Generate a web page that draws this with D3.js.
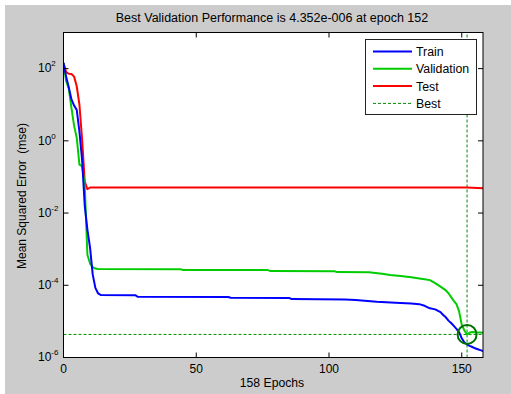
<!DOCTYPE html>
<html lang="en">
<head>
<meta charset="utf-8">
<title>Best Validation Performance</title>
<script src="https://cdn.jsdelivr.net/npm/d3@7"></script>
<style>
  body { margin: 0; background: #fff; }
  svg text { font-family: "Liberation Sans", Arial, sans-serif; fill: #000; }
  .ylabel { white-space: pre; }
</style>
</head>
<body>
<div id="chart"></div>
<script>
// ---- data ----
var xTicks = [0, 50, 100, 150];
var yTicks = [1e-6, 1e-4, 1e-2, 1, 1e2];
var yTickExp = ["-6", "-4", "-2", "0", "2"];

var trainEpochs = [0,1,2,3,4,5,6,7,8,9,10,11,12,13,14,27,28,62,63,85,86,106,110,118,125,131,134,136,138,140,142,143,144,145,146,147,148,149,150,151,152,153,154,155,156,157,158];
var trainMse = [143,60,30,14,9.5,7.1,1.8,0.3,0.016,0.0035,0.0011,2.0e-4,8.5e-5,6.0e-5,5.4e-5,5.3e-5,4.8e-5,4.75e-5,4.5e-5,4.45e-5,4.15e-5,4.05e-5,3.9e-5,3.5e-5,3.3e-5,3.15e-5,3.0e-5,2.7e-5,2.3e-5,2.15e-5,1.8e-5,1.5e-5,1.3e-5,1.05e-5,9e-6,7.5e-6,6.2e-6,5e-6,3.4e-6,2.6e-6,2.3e-6,2.1e-6,1.95e-6,1.8e-6,1.7e-6,1.6e-6,1.5e-6];

var valEpochs = [0,1,2,3,4,5,6,7,8,9,10,11,12,13,44,45,77,78,102,103,115,120,123,127,131,134,136,138,140,142,144,145,146,147,148,149,150,151,152,153,154,155,156,157,158];
var valMse = [143,45,28,8,2.6,1.2,0.22,0.2,0.06,7e-4,4e-4,3.2e-4,2.9e-4,2.81e-4,2.8e-4,2.64e-4,2.63e-4,2.47e-4,2.46e-4,2.32e-4,2.28e-4,2.08e-4,1.92e-4,1.8e-4,1.66e-4,1.55e-4,1.47e-4,1.39e-4,1.15e-4,9.2e-5,7.2e-5,6e-5,4.7e-5,3.7e-5,3.0e-5,1.9e-5,8e-6,5.6e-6,4.352e-6,4.9e-6,5.1e-6,5.0e-6,4.95e-6,4.9e-6,4.83e-6];

var testEpochs = [0,1,2,3,4,5,6,7,8,9,10,152,158];
var testMse = [143,80,72,71,60,32,10,1.1,0.075,0.046,0.051,0.051,0.049];

var bestEpoch = 152;
var bestPerf = 4.352e-6;
var totalEpochs = 158;

var legendNames = ["Train", "Validation", "Test", "Best"];

// ---- layout ----
var width = 511, height = 394;

var svg = d3.select("#chart").append("svg")
  .attr("width", width)
  .attr("height", height);

// grey figure background
svg.append("rect")
  .attr("x", 5).attr("y", 5)
  .attr("width", width - 5).attr("height", height - 5)
  .attr("fill", "#cccccc");

var x = d3.scaleLinear().domain([0, totalEpochs]).range([63.5, 483]);
var y = d3.scaleLog().domain([1e-6, 1e3]).range([357.5, 32.5]);

// white plot area
svg.append("rect")
  .attr("x", x.range()[0]).attr("y", y.range()[1])
  .attr("width", x.range()[1] - x.range()[0])
  .attr("height", y.range()[0] - y.range()[1])
  .attr("fill", "#fff");

svg.append("defs").append("clipPath")
  .attr("id", "clip")
  .append("rect")
  .attr("x", x.range()[0]).attr("y", y.range()[1])
  .attr("width", x.range()[1] - x.range()[0])
  .attr("height", y.range()[0] - y.range()[1]);

var plot = svg.append("g").attr("clip-path", "url(#clip)");

function pairs(ex, vals) {
  return ex.map(function(e, i) { return [e, vals[i]]; });
}

var line = d3.line()
  .x(function(d) { return x(d[0]); })
  .y(function(d) { return y(d[1]); });

// best lines
plot.append("line")
  .attr("x1", x(0)).attr("x2", x(totalEpochs))
  .attr("y1", y(bestPerf)).attr("y2", y(bestPerf))
  .attr("stroke", "#008a00").attr("stroke-width", 1)
  .attr("stroke-dasharray", "3,2");
plot.append("line")
  .attr("x1", x(bestEpoch)).attr("x2", x(bestEpoch))
  .attr("y1", y.range()[0]).attr("y2", y.range()[1])
  .attr("stroke", "#008a00").attr("stroke-width", 1)
  .attr("stroke-dasharray", "3,2");

var series = [
  {data: pairs(testEpochs, testMse), color: "#ff0000"},
  {data: pairs(valEpochs, valMse), color: "#00cc00"},
  {data: pairs(trainEpochs, trainMse), color: "#0000ff"}
];

series.forEach(function(s) {
  plot.append("path")
    .attr("d", line(s.data))
    .attr("fill", "none")
    .attr("stroke", s.color)
    .attr("stroke-width", 2)
    .attr("stroke-linejoin", "round");
});

// best circle
plot.append("circle")
  .attr("cx", x(bestEpoch)).attr("cy", y(bestPerf))
  .attr("r", 9.5)
  .attr("fill", "none")
  .attr("stroke", "#007000")
  .attr("stroke-width", 2);

// ---- axes (box with inward ticks) ----
var xBottom = svg.append("g")
  .attr("transform", "translate(0," + y.range()[0] + ")")
  .call(d3.axisBottom(x).tickValues(xTicks).tickSize(-5).tickSizeOuter(0).tickPadding(7).offset(0));
xBottom.select(".domain").remove();
xBottom.selectAll("text").attr("font-size", 12).attr("font-family", "Liberation Sans, Arial, sans-serif");

var xTop = svg.append("g")
  .attr("transform", "translate(0," + y.range()[1] + ")")
  .call(d3.axisTop(x).tickValues(xTicks).tickSize(-5).tickSizeOuter(0).tickFormat("").offset(0));
xTop.select(".domain").remove();

var yLeft = svg.append("g")
  .attr("transform", "translate(" + x.range()[0] + ",0)")
  .call(d3.axisLeft(y).tickValues(yTicks).tickSize(-5).tickSizeOuter(0).offset(0));
yLeft.select(".domain").remove();
yLeft.selectAll(".tick text")
  .attr("x", -25.5)
  .attr("text-anchor", "start")
  .attr("font-size", 12)
  .attr("font-family", "Liberation Sans, Arial, sans-serif")
  .text(null)
  .each(function(d, i) {
    var t = d3.select(this);
    t.append("tspan").text("10");
    t.append("tspan").attr("dy", -6).attr("font-size", 8).text(yTickExp[i]);
  });

var yRight = svg.append("g")
  .attr("transform", "translate(" + x.range()[1] + ",0)")
  .call(d3.axisRight(y).tickValues(yTicks).tickSize(-5).tickSizeOuter(0).tickFormat("").offset(0));
yRight.select(".domain").remove();

svg.selectAll(".tick line").attr("stroke", "#000");

// box
svg.append("rect")
  .attr("x", x.range()[0]).attr("y", y.range()[1])
  .attr("width", x.range()[1] - x.range()[0])
  .attr("height", y.range()[0] - y.range()[1])
  .attr("fill", "none")
  .attr("stroke", "#000");

// ---- texts ----
svg.append("text")
  .attr("x", 272).attr("y", 22)
  .attr("text-anchor", "middle")
  .attr("font-size", 12.5)
  .text("Best Validation Performance is 4.352e-006 at epoch 152");

svg.append("text")
  .attr("x", 272).attr("y", 387)
  .attr("text-anchor", "middle")
  .attr("font-size", 12.2)
  .text(totalEpochs + " Epochs");

svg.append("text")
  .attr("class", "ylabel")
  .attr("transform", "translate(26,196) rotate(-90)")
  .attr("text-anchor", "middle")
  .attr("font-size", 12)
  .text("Mean Squared Error  (mse)");

// ---- legend ----
var legend = svg.append("g");
legend.append("rect")
  .attr("x", 365.5).attr("y", 39.5)
  .attr("width", 111).attr("height", 75)
  .attr("fill", "#fff")
  .attr("stroke", "#222");

var legendColors = ["#0000ff", "#00cc00", "#ff0000", "#008a00"];
legendNames.forEach(function(name, i) {
  var ly = 51.5 + i * 17.3;
  legend.append("line")
    .attr("x1", 373).attr("x2", 412)
    .attr("y1", ly).attr("y2", ly)
    .attr("stroke", legendColors[i])
    .attr("stroke-width", i < 3 ? 2 : 1)
    .attr("stroke-dasharray", i < 3 ? null : "3,2");
  legend.append("text")
    .attr("x", 416).attr("y", ly)
    .attr("dy", "0.36em")
    .attr("font-size", 12.3)
    .text(name);
});
</script>
</body>
</html>
